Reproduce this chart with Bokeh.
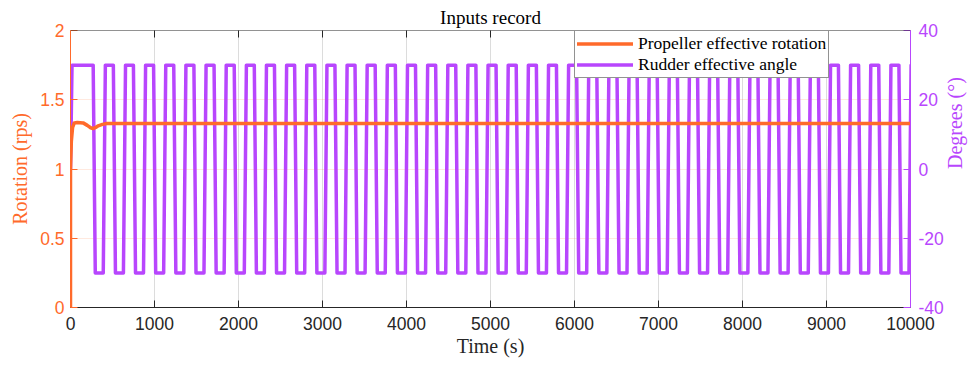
import math
from bokeh.plotting import figure
from bokeh.models import (Range1d, LinearAxis, Legend, LegendItem, FixedTicker,
                          NumeralTickFormatter, Span)
from bokeh.embed import file_html
from bokeh.resources import INLINE

ORANGE = "#FF6A2B"
PURPLE = "#B846FD"
DARK = "#262626"

# ---- data -------------------------------------------------------------
x_ticks = [0, 1000, 2000, 3000, 4000, 5000, 6000, 7000, 8000, 9000, 10000]
rot_ticks = [0, 0.5, 1, 1.5, 2]
deg_ticks = [-40, -20, 0, 20, 40]

# propeller effective rotation (rps)
prop_t = [0, 0, 10, 25, 45, 80, 150, 200, 240, 270, 300, 330, 380, 430, 10000]
prop_rps = [0, 1.0, 1.2, 1.3, 1.333, 1.335, 1.333, 1.315, 1.298, 1.292,
            1.300, 1.312, 1.322, 1.328, 1.328]

# rudder effective angle (deg): start, then zig-zag switching times
rud_init_t = [0, 18]
rud_init_deg = [0, 30]
rud_level = 30
rud_ramp = 25
rud_fall_t = [270, 510, 749, 989, 1229, 1469, 1709, 1949, 2188, 2428, 2668,
              2908, 3148, 3387, 3627, 3867, 4107, 4347, 4586, 4826, 5066,
              5306, 5546, 5785, 6025, 6265, 6505, 6745, 6984, 7224, 7464,
              7704, 7944, 8183, 8423, 8663, 8903, 9142, 9382, 9622, 9862]
rud_rise_t = [390, 630, 869, 1109, 1349, 1589, 1829, 2069, 2308, 2548, 2788,
              3028, 3268, 3507, 3747, 3987, 4227, 4467, 4706, 4946, 5186,
              5426, 5666, 5905, 6145, 6385, 6625, 6865, 7104, 7344, 7584,
              7824, 8064, 8303, 8543, 8783, 9023, 9262, 9502, 9742, 9982]

# build rudder polyline from the switching events
events = sorted([(t, -1) for t in rud_fall_t] + [(t, 1) for t in rud_rise_t])
rud_t = list(rud_init_t)
rud_deg = list(rud_init_deg)
for t, s in events:
    rud_t += [t, t + rud_ramp]
    rud_deg += [-s * rud_level, s * rud_level]

# ---- figure -----------------------------------------------------------
p = figure(width=979, height=367, output_backend="svg", toolbar_location=None,
           x_range=Range1d(x_ticks[0], x_ticks[-1]),
           y_range=Range1d(rot_ticks[0], rot_ticks[-1]),
           min_border_left=70, min_border_right=66, min_border_top=30,
           min_border_bottom=60, title="Inputs record")
p.extra_y_ranges = {"deg": Range1d(deg_ticks[0], deg_ticks[-1])}
p.outline_line_color = None
p.background_fill_color = "white"
p.border_fill_color = "white"

p.title.text_font = "Liberation Serif"
p.title.text_font_size = "19px"
p.title.text_font_style = "normal"
p.title.text_color = "black"
p.title.align = "center"
p.title.standoff = 5

# bottom axis
xa = p.xaxis[0]
xa.ticker = FixedTicker(ticks=x_ticks)
xa.formatter = NumeralTickFormatter(format="0")
xa.axis_label = "Time (s)"
xa.axis_label_text_font = "Liberation Serif"
xa.axis_label_text_font_size = "20px"
xa.axis_label_text_font_style = "normal"
xa.axis_label_text_color = DARK
xa.axis_label_standoff = 2
xa.major_label_text_font = "Liberation Sans"
xa.major_label_text_font_size = "17.5px"
xa.major_label_text_color = DARK
xa.major_label_standoff = 9
xa.axis_line_color = DARK
xa.major_tick_line_color = DARK
xa.major_tick_in = 7
xa.major_tick_out = 0
xa.minor_tick_line_color = None

# left axis
ya = p.yaxis[0]
ya.ticker = FixedTicker(ticks=rot_ticks)
ya.formatter = NumeralTickFormatter(format="0.[0]")
ya.axis_label = "Rotation (rps)"
ya.axis_label_text_font = "Liberation Serif"
ya.axis_label_text_font_size = "20px"
ya.axis_label_text_font_style = "normal"
ya.axis_label_text_color = ORANGE
ya.axis_label_standoff = 6
ya.major_label_text_font = "Liberation Sans"
ya.major_label_text_font_size = "17.5px"
ya.major_label_text_color = ORANGE
ya.major_label_standoff = 6
ya.axis_line_color = ORANGE
ya.major_tick_line_color = ORANGE
ya.major_tick_in = 7
ya.major_tick_out = 0
ya.minor_tick_line_color = None

# right axis
ra = LinearAxis(y_range_name="deg", ticker=FixedTicker(ticks=deg_ticks),
                formatter=NumeralTickFormatter(format="0"),
                axis_label="Degrees (°)")
ra.axis_label_text_font = "Liberation Serif"
ra.axis_label_text_font_size = "20px"
ra.axis_label_text_font_style = "normal"
ra.axis_label_text_color = PURPLE
ra.axis_label_standoff = 8
ra.axis_label_orientation = math.pi / 2
ra.major_label_text_font = "Liberation Sans"
ra.major_label_text_font_size = "17.5px"
ra.major_label_text_color = PURPLE
ra.major_label_standoff = 8
ra.axis_line_color = PURPLE
ra.major_tick_line_color = PURPLE
ra.major_tick_in = 7
ra.major_tick_out = 0
ra.minor_tick_line_color = None
p.add_layout(ra, "right")

# grids
p.xgrid.ticker = FixedTicker(ticks=x_ticks)
p.xgrid.grid_line_color = "#dcdcdc"
p.ygrid.ticker = FixedTicker(ticks=rot_ticks)
p.ygrid.grid_line_color = ORANGE
p.ygrid.grid_line_alpha = 0.15

# top box line with inward ticks
p.add_layout(Span(location=rot_ticks[-1], dimension="width",
                  line_color=DARK, line_width=1))
p.scatter(x_ticks, [rot_ticks[-1]] * len(x_ticks), marker="dash",
          angle=math.pi / 2, size=14, line_color=DARK, line_width=1)

# lines
r_rud = p.line(rud_t, rud_deg, y_range_name="deg", line_color=PURPLE,
               line_width=3.5, line_join="round", line_cap="round")
r_prop = p.line(prop_t, prop_rps, line_color=ORANGE, line_width=3.5,
                line_join="round", line_cap="round")

legend = Legend(items=[LegendItem(label="Propeller effective rotation", renderers=[r_prop]),
                       LegendItem(label="Rudder effective angle", renderers=[r_rud])],
                location=(504, 229))
legend.label_text_font = "Liberation Serif"
legend.label_text_font_size = "17.5px"
legend.label_text_color = "black"
legend.label_text_line_height = 1.0
legend.glyph_width = 56
legend.glyph_height = 19
legend.label_height = 19
legend.label_standoff = 5
legend.padding = 2
legend.spacing = 0
legend.margin = 0
legend.border_line_color = DARK
legend.border_line_width = 1
legend.background_fill_color = "white"
legend.background_fill_alpha = 1
p.add_layout(legend)

open("out.html", "w").write(file_html(p, INLINE))
